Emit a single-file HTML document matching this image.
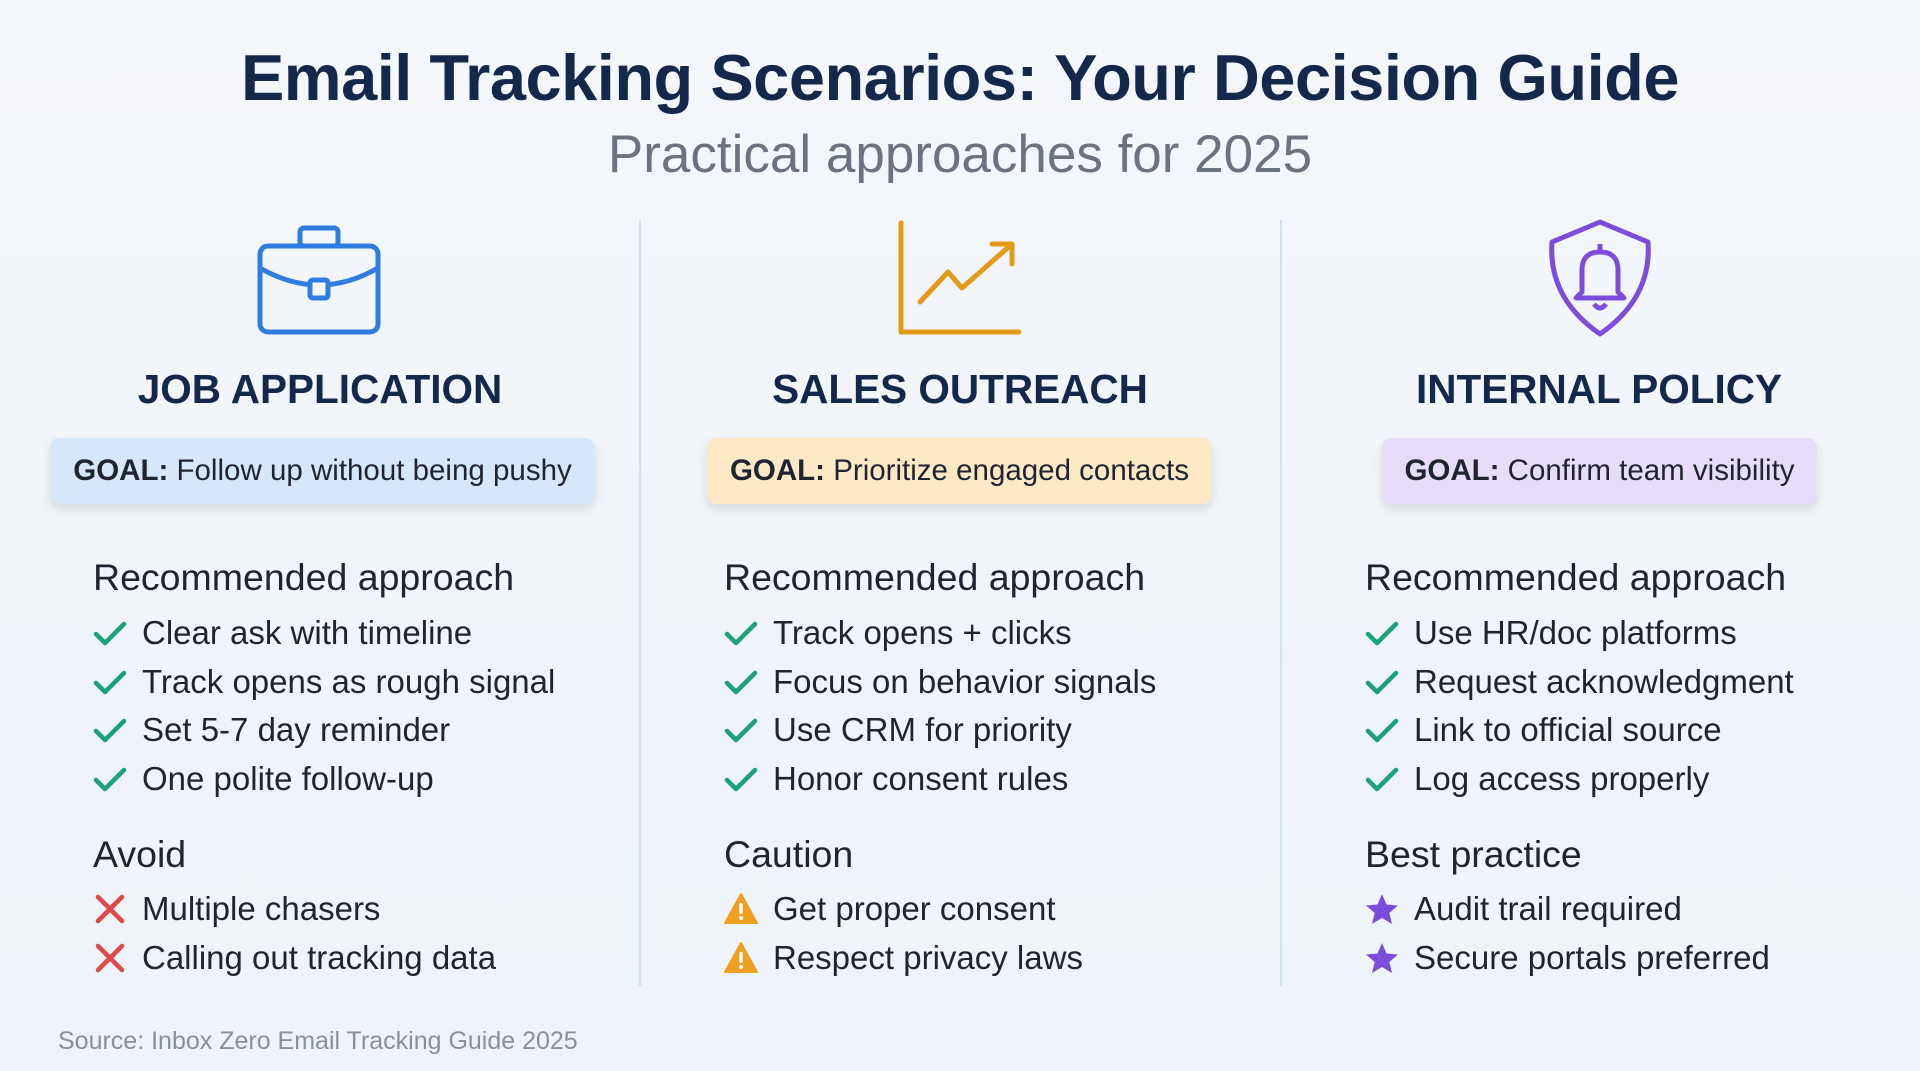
<!DOCTYPE html>
<html><head><meta charset="utf-8"><style>
*{margin:0;padding:0;box-sizing:border-box}
body{width:1920px;height:1071px;overflow:hidden;background:linear-gradient(180deg,#f4f7fb,#eef3f9);font-family:"Liberation Sans",sans-serif;position:relative;color:#1f2430}
.a{position:absolute;white-space:nowrap}
.t{left:0;width:1920px;text-align:center;top:40px;font-size:65px;font-weight:bold;color:#14284b;letter-spacing:-0.5px}
.st{left:0;width:1920px;text-align:center;top:124px;font-size:53px;color:#6b7280}
.div{position:absolute;top:220px;height:766px;width:2px;background:#cfe0f0}
.h{font-size:40.5px;font-weight:bold;color:#14284b;text-align:center;width:640px;top:366px}
.goal{position:absolute;top:438px;height:66px;border-radius:10px;box-shadow:0 5px 10px rgba(0,0,0,.12);font-size:29.5px;display:flex;align-items:center;justify-content:center;color:#1f2430}
.sec{font-size:37.5px;color:#1f2430}
.it{font-size:33px;color:#1f2430;display:flex;align-items:center}
.ic{display:inline-block;width:34px;height:34px;margin-right:15px}
</style></head><body>
<svg width="0" height="0" style="position:absolute"><defs>
<symbol id="ck" viewBox="0 0 34 34"><path d="M3 18 L12 27 L31 8" fill="none" stroke="#1aa27a" stroke-width="4.5" stroke-linecap="round" stroke-linejoin="round"/></symbol>
<symbol id="x" viewBox="0 0 34 34"><path d="M5 5 L29 29 M29 5 L5 29" fill="none" stroke="#e04848" stroke-width="4.5" stroke-linecap="round"/></symbol>
<symbol id="w" viewBox="0 0 34 34"><path d="M17 2 L33 31 H1 Z" fill="#f0a020" stroke="#f0a020" stroke-width="2" stroke-linejoin="round"/><rect x="15.3" y="11" width="3.4" height="11" rx="1.5" fill="#fff"/><circle cx="17" cy="26" r="2" fill="#fff"/></symbol>
<symbol id="s" viewBox="0 0 34 34"><path d="M17 2 L21.5 12.5 L33 13.5 L24.3 21 L27 32 L17 26 L7 32 L9.7 21 L1 13.5 L12.5 12.5 Z" fill="#7c4ddb"/></symbol>
</defs></svg>
<div class="a t">Email Tracking Scenarios: Your Decision Guide</div>
<div class="a st">Practical approaches for 2025</div>
<div class="div" style="left:639px"></div>
<div class="div" style="left:1280px"></div>

<svg class="a" style="left:256px;top:224px" width="128" height="112" viewBox="0 0 128 112" fill="none" stroke="#2f7de1" stroke-width="5" stroke-linejoin="round">
<rect x="4" y="22" width="118" height="86" rx="8"/><rect x="44" y="4" width="38" height="18" rx="4"/><path d="M4 44 Q63 78 122 44"/><rect x="54" y="56" width="18" height="18" rx="3" fill="#f4f7fb"/></svg>
<svg class="a" style="left:896px;top:220px" width="128" height="118" viewBox="0 0 128 118" fill="none" stroke="#e39a17" stroke-width="5" stroke-linecap="round" stroke-linejoin="round">
<path d="M5 3 V112 H123"/><path d="M24 82 L52 52 L66 68 L116 24"/><path d="M96 24 H116 V44"/></svg>
<svg class="a" style="left:1544px;top:218px" width="112" height="122" viewBox="0 0 112 122" fill="none" stroke="#7c4ddb" stroke-width="5" stroke-linejoin="round">
<path d="M56 4 L104 24 Q108 80 56 116 Q4 80 8 24 Z"/><path d="M38 74 V52 Q38 34 56 34 Q74 34 74 52 V74 L80 80 H32 Z"/><path d="M50 86 Q56 94 62 86"/><path d="M56 26 V34"/></svg>

<div class="a h" style="left:0">JOB APPLICATION</div>
<div class="a h" style="left:640px">SALES OUTREACH</div>
<div class="a h" style="left:1279px">INTERNAL POLICY</div>

<div class="goal" style="left:50px;width:545px;background:#d5e7fa"><b>GOAL:</b>&nbsp;Follow up without being pushy</div>
<div class="goal" style="left:707px;width:505px;background:#fde8c6"><b>GOAL:</b>&nbsp;Prioritize engaged contacts</div>
<div class="goal" style="left:1382px;width:435px;background:#e8dcfb"><b>GOAL:</b>&nbsp;Confirm team visibility</div>

<div class="a sec" style="left:93px;top:556px">Recommended approach</div>
<div class="a it" style="left:93px;top:614px"><svg class="ic"><use href="#ck"/></svg>Clear ask with timeline</div>
<div class="a it" style="left:93px;top:663px"><svg class="ic"><use href="#ck"/></svg>Track opens as rough signal</div>
<div class="a it" style="left:93px;top:711px"><svg class="ic"><use href="#ck"/></svg>Set 5-7 day reminder</div>
<div class="a it" style="left:93px;top:760px"><svg class="ic"><use href="#ck"/></svg>One polite follow-up</div>
<div class="a sec" style="left:93px;top:833px">Avoid</div>
<div class="a it" style="left:93px;top:890px"><svg class="ic"><use href="#x"/></svg>Multiple chasers</div>
<div class="a it" style="left:93px;top:939px"><svg class="ic"><use href="#x"/></svg>Calling out tracking data</div>

<div class="a sec" style="left:724px;top:556px">Recommended approach</div>
<div class="a it" style="left:724px;top:614px"><svg class="ic"><use href="#ck"/></svg>Track opens + clicks</div>
<div class="a it" style="left:724px;top:663px"><svg class="ic"><use href="#ck"/></svg>Focus on behavior signals</div>
<div class="a it" style="left:724px;top:711px"><svg class="ic"><use href="#ck"/></svg>Use CRM for priority</div>
<div class="a it" style="left:724px;top:760px"><svg class="ic"><use href="#ck"/></svg>Honor consent rules</div>
<div class="a sec" style="left:724px;top:833px">Caution</div>
<div class="a it" style="left:724px;top:890px"><svg class="ic"><use href="#w"/></svg>Get proper consent</div>
<div class="a it" style="left:724px;top:939px"><svg class="ic"><use href="#w"/></svg>Respect privacy laws</div>

<div class="a sec" style="left:1365px;top:556px">Recommended approach</div>
<div class="a it" style="left:1365px;top:614px"><svg class="ic"><use href="#ck"/></svg>Use HR/doc platforms</div>
<div class="a it" style="left:1365px;top:663px"><svg class="ic"><use href="#ck"/></svg>Request acknowledgment</div>
<div class="a it" style="left:1365px;top:711px"><svg class="ic"><use href="#ck"/></svg>Link to official source</div>
<div class="a it" style="left:1365px;top:760px"><svg class="ic"><use href="#ck"/></svg>Log access properly</div>
<div class="a sec" style="left:1365px;top:833px">Best practice</div>
<div class="a it" style="left:1365px;top:890px"><svg class="ic"><use href="#s"/></svg>Audit trail required</div>
<div class="a it" style="left:1365px;top:939px"><svg class="ic"><use href="#s"/></svg>Secure portals preferred</div>

<div class="a" style="left:58px;top:1027px;font-size:25px;color:#8a909a">Source: Inbox Zero Email Tracking Guide 2025</div>
</body></html>
